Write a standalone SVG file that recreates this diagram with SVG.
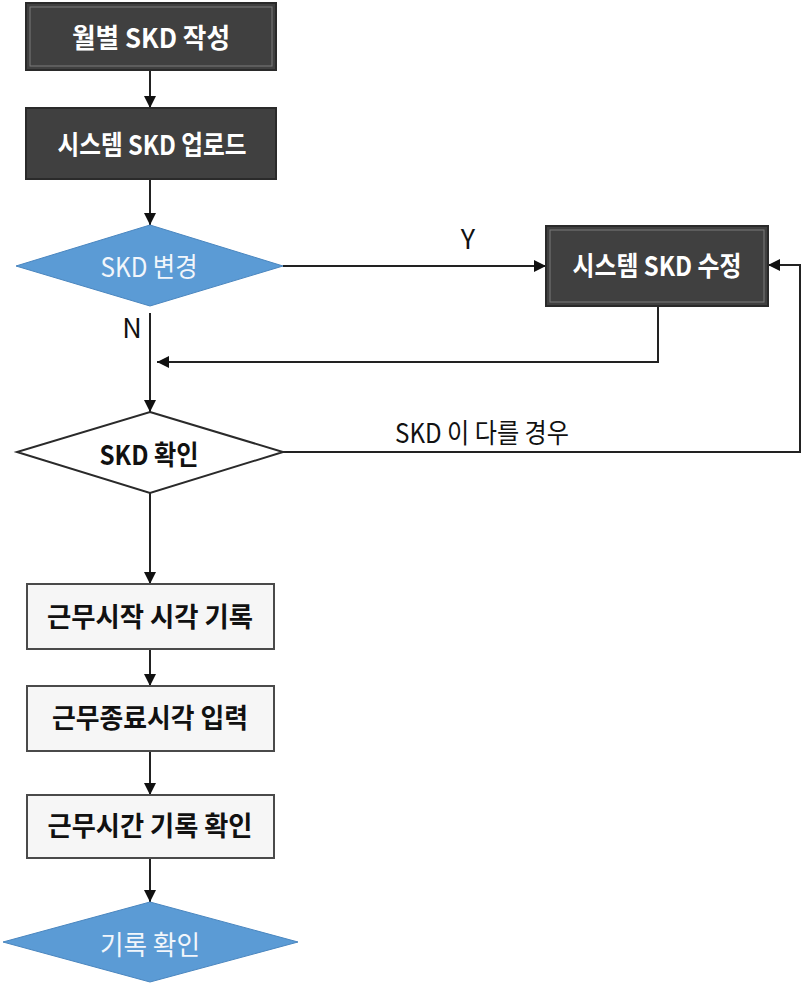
<svg xmlns="http://www.w3.org/2000/svg" width="803" height="985" viewBox="0 0 803 985">
<defs>
<style>
.dark{fill:#404040;stroke:#2a2a2a;stroke-width:2}
.darkin{fill:none;stroke:#7a7a7a;stroke-width:1}
.light{fill:#f6f6f6;stroke:#4a4a4a;stroke-width:2}
.blue{fill:#5b9bd5;stroke:#4a86bf;stroke-width:1}
.white{fill:#ffffff;stroke:#2a2a2a;stroke-width:2}
.t{font-family:"Noto Sans CJK KR","Noto Sans",sans-serif;font-size:27px;text-anchor:middle;dominant-baseline:central}
.b{font-weight:bold}
.w{fill:#ffffff}
.k{fill:#111111}
.wl{fill:#f2f6fb}
.line{fill:none;stroke:#222;stroke-width:2}
</style>
<marker id="ah" viewBox="0 0 12 12" refX="12" refY="6" markerWidth="12" markerHeight="12" markerUnits="userSpaceOnUse" orient="auto">
<path d="M0,0 L12,6 L0,12 Z" fill="#111"/>
</marker>
</defs>
<rect width="803" height="985" fill="#ffffff"/>
<g id="connectors">
<path class="line" d="M150,71 L150,108" marker-end="url(#ah)"/>
<path class="line" d="M150,179 L150,225" marker-end="url(#ah)"/>
<path class="line" d="M283,266 L546,266" marker-end="url(#ah)"/>
<path class="line" d="M150,313 L150,412" marker-end="url(#ah)"/>
<path class="line" d="M658,306 L658,362 L157,362" marker-end="url(#ah)"/>
<path class="line" d="M283,452 L800,452 L800,265 L768,265" marker-end="url(#ah)"/>
<path class="line" d="M150,493 L150,584" marker-end="url(#ah)"/>
<path class="line" d="M150,649 L150,686" marker-end="url(#ah)"/>
<path class="line" d="M150,751 L150,795" marker-end="url(#ah)"/>
<path class="line" d="M150,858 L150,902" marker-end="url(#ah)"/>
<text class="t k" x="468" y="237" font-size="23">Y</text>
<text class="t k" x="132" y="326" font-size="23">N</text>
<text class="t k" x="482" y="431" textLength="174" lengthAdjust="spacingAndGlyphs">SKD 이 다를 경우</text>
</g>
<g id="n1">
<rect class="dark" x="26" y="3" width="250" height="67"/>
<rect class="darkin" x="30" y="7" width="242" height="59"/>
<text class="t b w" x="151" y="36" textLength="158" lengthAdjust="spacingAndGlyphs">월별 SKD 작성</text>
</g>
<g id="n2">
<rect class="dark" x="26" y="108" width="250" height="71"/>
<text class="t b w" x="152" y="143" textLength="189" lengthAdjust="spacingAndGlyphs">시스템 SKD 업로드</text>
</g>
<g id="n3">
<polygon class="blue" points="150,225 283,266 150,306 16,266"/>
<text class="t wl" x="149" y="265" textLength="97" lengthAdjust="spacingAndGlyphs">SKD 변경</text>
</g>
<g id="n4">
<rect class="dark" x="546" y="226" width="222" height="80"/>
<rect class="darkin" x="550" y="230" width="214" height="72"/>
<text class="t b w" x="657" y="264" textLength="169" lengthAdjust="spacingAndGlyphs">시스템 SKD 수정</text>
</g>
<g id="n5">
<polygon class="white" points="150,412 283,452 150,493 17,452"/>
<text class="t b k" x="149" y="453" textLength="99" lengthAdjust="spacingAndGlyphs">SKD 확인</text>
</g>
<g id="n6">
<rect class="light" x="27" y="584" width="247" height="65"/>
<text class="t b k" x="150" y="615" textLength="206" lengthAdjust="spacingAndGlyphs">근무시작 시각 기록</text>
</g>
<g id="n7">
<rect class="light" x="27" y="686" width="247" height="65"/>
<text class="t b k" x="150" y="716" textLength="196" lengthAdjust="spacingAndGlyphs">근무종료시각 입력</text>
</g>
<g id="n8">
<rect class="light" x="27" y="795" width="247" height="63"/>
<text class="t b k" x="150" y="824" textLength="205" lengthAdjust="spacingAndGlyphs">근무시간 기록 확인</text>
</g>
<g id="n9">
<polygon class="blue" points="150,902 298,942 150,982 3,942"/>
<text class="t wl" x="150" y="943" textLength="100" lengthAdjust="spacingAndGlyphs">기록 확인</text>
</g>
</svg>
